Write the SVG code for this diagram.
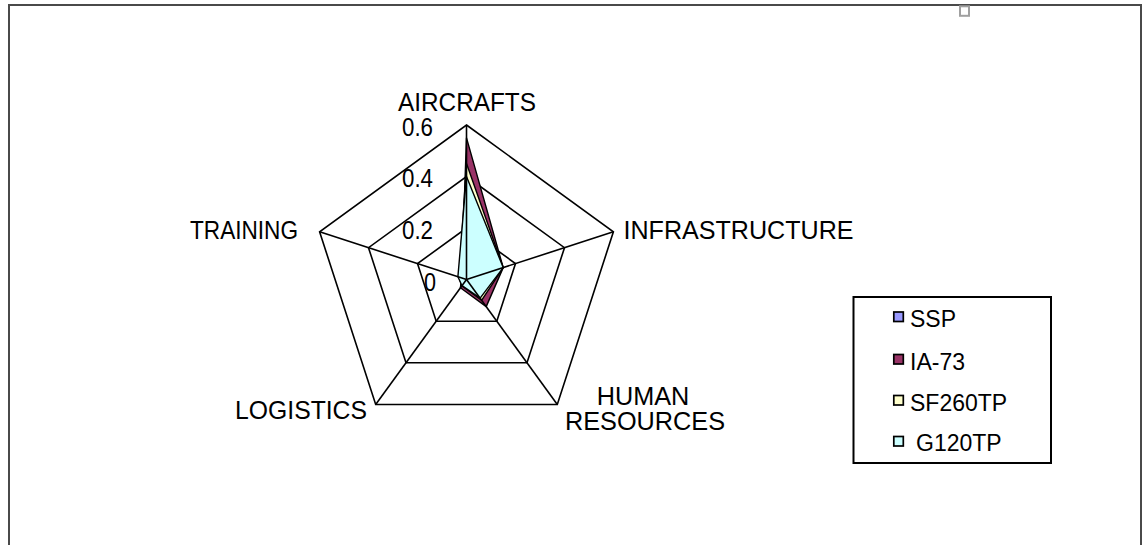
<svg xmlns="http://www.w3.org/2000/svg" width="1142" height="545" viewBox="0 0 1142 545">
  <style>
    .lbl { font-family: "Liberation Sans", Arial, sans-serif; font-size: 25px; fill: #000; }
    .leg { font-family: "Liberation Sans", Arial, sans-serif; font-size: 23px; fill: #000; }
    .ring { fill: none; stroke: #000; stroke-width: 1.6; stroke-linejoin: miter; }
    .spoke { stroke: #000; stroke-width: 1.6; fill: none; }
    .ser { stroke: #000; stroke-width: 1.4; stroke-linejoin: round; }
    .sw { stroke: #000; stroke-width: 1.7; }
  </style>
  <rect x="0" y="0" width="1142" height="545" fill="#fff"/>
  <g id="frame">
    <rect x="9" y="5" width="1132" height="560" fill="#fff" stroke="#4a4a4a" stroke-width="2"/>
    <rect x="960" y="6.3" width="9" height="9.5" fill="#fff" stroke="#a0a0a0" stroke-width="2"/>
  </g>
  <g id="grid">
    <polygon class="ring" points="466.5,125 613.4,231.8 557.3,404.5 375.7,404.5 319.6,231.8"/>
    <polygon class="ring" points="466.5,176.5 564.5,247.7 527,362.8 406,362.8 368.5,247.7"/>
    <polygon class="ring" points="466.5,228 515.5,263.6 496.8,321.2 436.2,321.2 417.5,263.6"/>
  </g>
  <g id="series">
    <polygon id="s-ssp" class="ser" fill="#9999FF" points="466.5,202.3 491,271.5 474.1,290 462.3,285.1 461.6,277.9"/>
    <polygon id="s-ia73" class="ser" fill="#993366" points="466.5,137.9 503.2,267.6 486.2,306.6 460.4,287.8 461.6,277.9"/>
    <polygon id="s-sf260tp" class="ser" fill="#FFFFCC" points="466.5,163.6 503.2,267.6 481.6,300.3 461.6,285.7 459.2,277.1"/>
    <polygon id="s-g120tp" class="ser" fill="#CCFFFF" points="466.5,176.5 503.2,267.6 480.1,298.2 462,285.7 457.9,276.7"/>
  </g>
  <g id="connectors">
    <line class="spoke" x1="466.5" y1="279.5" x2="466.5" y2="125"/>
    <line class="spoke" x1="466.5" y1="279.5" x2="613.4" y2="231.8"/>
    <line class="spoke" x1="466.5" y1="279.5" x2="557.3" y2="404.5"/>
    <line class="spoke" x1="466.5" y1="279.5" x2="375.7" y2="404.5"/>
    <line class="spoke" x1="466.5" y1="279.5" x2="319.6" y2="231.8"/>
  </g>
  <g id="axis-labels">
    <g id="n-aircrafts"><text class="lbl" x="398" y="111" textLength="138" lengthAdjust="spacingAndGlyphs">AIRCRAFTS</text></g>
    <g id="n-infrastructure"><text class="lbl" x="623.5" y="238.5" textLength="230" lengthAdjust="spacingAndGlyphs">INFRASTRUCTURE</text></g>
    <g id="n-human"><text class="lbl" x="596.7" y="404.5" textLength="92.6" lengthAdjust="spacingAndGlyphs">HUMAN</text><text class="lbl" x="565" y="429.5" textLength="160" lengthAdjust="spacingAndGlyphs">RESOURCES</text></g>
    <g id="n-logistics"><text class="lbl" x="235" y="418.5" textLength="132" lengthAdjust="spacingAndGlyphs">LOGISTICS</text></g>
    <g id="n-training"><text class="lbl" x="190" y="238.5" textLength="108" lengthAdjust="spacingAndGlyphs">TRAINING</text></g>
  </g>
  <g id="value-labels">
    <text class="lbl" x="402" y="135.5" textLength="31" lengthAdjust="spacingAndGlyphs">0.6</text>
    <text class="lbl" x="402" y="187" textLength="31" lengthAdjust="spacingAndGlyphs">0.4</text>
    <text class="lbl" x="402" y="238.5" textLength="31" lengthAdjust="spacingAndGlyphs">0.2</text>
    <text class="lbl" x="424" y="291" textLength="12" lengthAdjust="spacingAndGlyphs">0</text>
  </g>
  <g id="legend">
    <rect x="853.5" y="297" width="197.5" height="166" fill="#fff" stroke="#000" stroke-width="2"/>
    <g id="leg-ssp"><rect class="sw" x="893.8" y="312" width="9.5" height="9.5" fill="#9999FF"/><text class="leg" x="910" y="327">SSP</text></g>
    <g id="leg-ia73"><rect class="sw" x="893.8" y="354.5" width="9.5" height="9.5" fill="#993366"/><text class="leg" x="910" y="369.5">IA-73</text></g>
    <g id="leg-sf260tp"><rect class="sw" x="893.8" y="395.5" width="9.5" height="9.5" fill="#FFFFCC"/><text class="leg" x="910" y="410.5">SF260TP</text></g>
    <g id="leg-g120tp"><rect class="sw" x="893.8" y="436.5" width="9.5" height="9.5" fill="#CCFFFF"/><text class="leg" x="916" y="451">G120TP</text></g>
  </g>
</svg>
